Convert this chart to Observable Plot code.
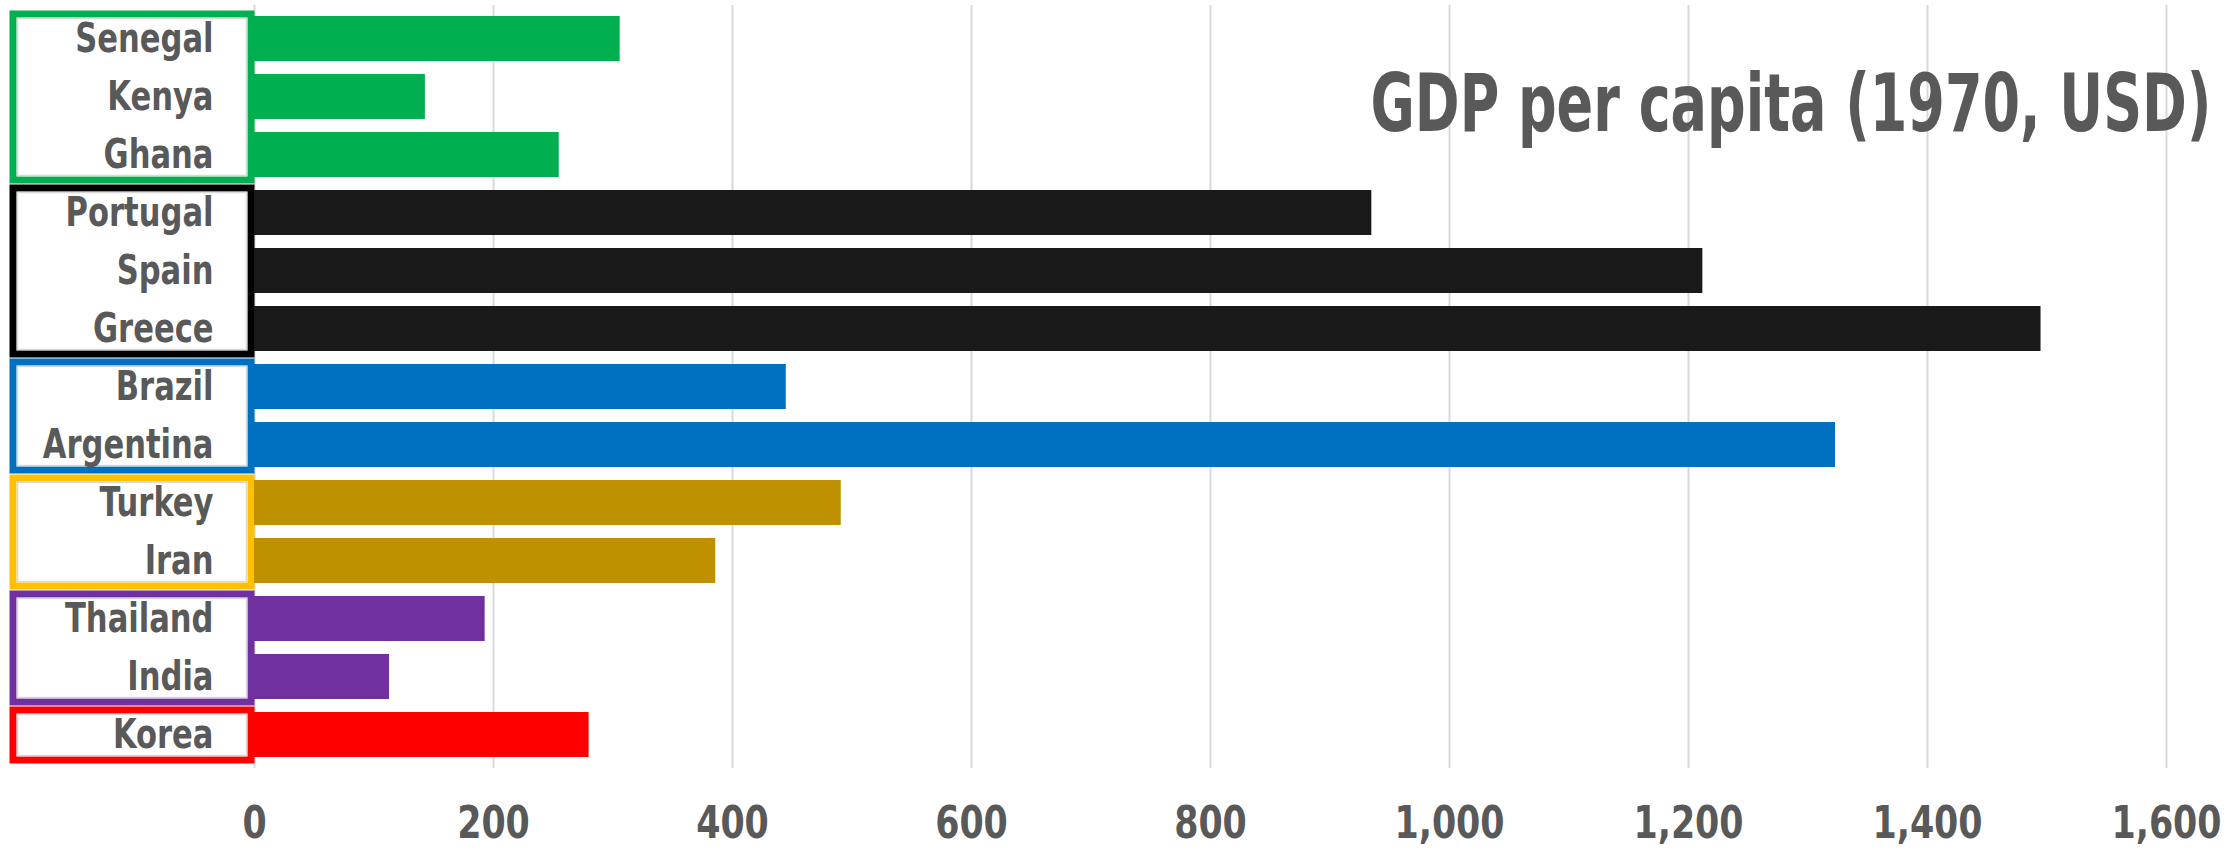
<!DOCTYPE html>
<html><head><meta charset="utf-8">
<script src="https://cdn.jsdelivr.net/npm/d3@7"></script>
<script src="https://cdn.jsdelivr.net/npm/@observablehq/plot@0.6"></script>
<style>body{margin:0;background:#fff;overflow:hidden}</style>
</head><body><div id="chart"></div>
<script>
const countries = ["Senegal","Kenya","Ghana","Portugal","Spain","Greece","Brazil","Argentina","Turkey","Iran","Thailand","India","Korea"];
const gdp1970 = [306,143,255,935,1212,1495,445,1323,491,386,193,113,280];
const countryGroup = ["Africa","Africa","Africa","Southern Europe","Southern Europe","Southern Europe","Latin America","Latin America","Middle East","Middle East","Asia","Asia","Korea"];
const groupNames = ["Africa","Southern Europe","Latin America","Middle East","Asia","Korea"];
const barColors = ["#00b050","#191919","#0070c0","#bf9000","#7030a0","#ff0000"];
const boxColors = ["#00b050","#000000","#0070c0","#ffc000","#7030a0","#ff0000"];
const xTicks = [0,200,400,600,800,1000,1200,1400,1600];
const chartTitle = "GDP per capita (1970, USD)";

const rows = countries.map((c, i) => ({country: c, value: gdp1970[i], group: countryGroup[i]}));
const groups = groupNames.map((g, i) => {
  const members = countries.filter((c, j) => countryGroup[j] === g);
  return {group: g, first: members[0], last: members[members.length - 1], color: boxColors[i]};
});
const barColorOf = Object.fromEntries(groupNames.map((g, i) => [g, barColors[i]]));

const font = "'Liberation Sans Narrow','DejaVu Sans Condensed','Arial Narrow',sans-serif";

const chart = Plot.plot({
  width: 2233,
  height: 850,
  marginLeft: 254,
  marginRight: 67,
  marginTop: 5,
  marginBottom: 82,
  style: {fontFamily: font, fontWeight: "bold", color: "#595959", background: "#fff"},
  x: {domain: [0, 1600], ticks: xTicks, tickFormat: d3.format(",")},
  y: {domain: countries, paddingInner: 0.22, paddingOuter: 0.1},
  marks: [
    Plot.gridX(xTicks, {stroke: "#d9d9d9", strokeOpacity: 1, strokeWidth: 2}),
    Plot.rect(groups, {x1: 0, x2: 0, y1: "first", y2: "last", insetLeft: -241, insetRight: 3, insetTop: -2, insetBottom: -3, fill: "#fff", stroke: "color", strokeWidth: 7}),
    Plot.rect(groups, {x1: 0, x2: 0, y1: "first", y2: "last", insetLeft: -236.5, insetRight: 7.5, insetTop: 2.5, insetBottom: 1.5, fill: "none", stroke: "#d9d9d9", strokeWidth: 1.5}),
    Plot.barX(rows, {x: "value", y: "country", fill: d => barColorOf[d.group]}),
    Plot.axisY({tickSize: 0, tickPadding: 41, fontSize: 40, fontWeight: "bold", label: null}),
    Plot.axisX(xTicks, {tickSize: 0, tickPadding: 38, fontSize: 44, fontWeight: "bold", label: null, tickFormat: d3.format(",")}),
    Plot.text([chartTitle], {frameAnchor: "top-right", text: d => d, dx: 45, dy: 69, lineAnchor: "top", textAnchor: "end", fontSize: 80, fontWeight: "bold", fill: "#595959"})
  ]
});
document.getElementById("chart").appendChild(chart);

// condense glyphs horizontally (about each text's anchor) to approximate the narrow bold face of the original
const squeezeBy = {"y-axis tick label": 0.85, "x-axis tick label": 0.88, "text": 0.75};
chart.querySelectorAll("text").forEach(t => {
  const g = t.closest("g[aria-label]");
  const k = g ? squeezeBy[g.getAttribute("aria-label")] : undefined;
  if (!k) return;
  const tr = t.getAttribute("transform");
  if (tr) {
    t.setAttribute("transform", tr + ` scale(${k},1)`);
  } else {
    const x = +(t.getAttribute("x") || 0), y = +(t.getAttribute("y") || 0);
    t.setAttribute("transform", `translate(${x},${y}) scale(${k},1) translate(${-x},${-y})`);
  }
});
</script>
</body></html>
